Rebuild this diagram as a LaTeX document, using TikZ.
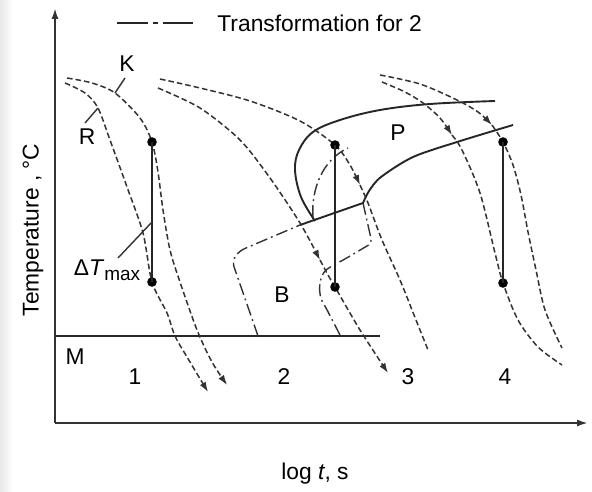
\documentclass[tikz,border=0pt]{standalone}
\usepackage{fontspec}
\setmainfont{Liberation Sans}
\usetikzlibrary{arrows.meta}
\tikzset{
    lbl/.style={font=\fontsize{11.4}{13}\selectfont, inner sep=1pt},
    axisline/.style={draw=black!80, line width=0.95pt, -{Latex[length=5.5pt,width=3.5pt]}},
    phaseline/.style={draw=black!85, line width=0.95pt},
    coolcurve/.style={draw=black!80, line width=0.75pt, dash pattern=on 2.8pt off 1.5pt},
    transcurve/.style={draw=black!80, line width=0.7pt, dash pattern=on 6pt off 2pt on 0.9pt off 2pt},
    legendline/.style={draw=black!85, line width=0.85pt, dash pattern=on 15.5pt off 2.5pt on 2.5pt off 2.5pt},
    leader/.style={draw=black!80, line width=0.7pt},
    flow/.style={-{Latex[length=5pt,width=3.4pt]}},
    tempdot/.style={circle, fill=black, inner sep=0pt, minimum size=4.8pt}
}

\begin{document}
\begin{tikzpicture}[x=0.5pt, y=-0.5pt]
    % Frame
    \fill[white] (0,0) rectangle (592,491);
    \useasboundingbox (0,0) rectangle (592,491);
    \fill[left color=black!9, right color=white] (0,0) rectangle (13,491);

    % Axes and M line
    \coordinate (origin) at (55,423);
    \coordinate (ytip) at (55,8);
    \coordinate (xtip) at (588,423);
    \coordinate (mleft) at (55,336);
    \coordinate (mright) at (380,336);
    \draw[axisline] (origin) -- (ytip);
    \draw[axisline] (origin) -- (xtip);
    \draw[phaseline] (mleft) -- (mright);

    % Legend
    \coordinate (legA) at (117,23);
    \coordinate (legB) at (193,23);
    \draw[legendline] (legA) -- (legB);
    \node[lbl, anchor=west] (legend) at (215,23) {Transformation for 2};

    % Transformation for 2
    \draw[transcurve, rounded corners=3pt] (258,336) -- (232,261) -- (239,251) -- (300,225);
    \draw[transcurve, rounded corners=2pt] (363,203) -- (372,243) -- (345,259) -- (330,267)
        .. controls (318,276) and (318,295) .. (325,306) -- (340,335);
    \draw[transcurve] (313,217) .. controls (311,190) and (322,160) .. (348,148);

    % P and B lines
    \draw[phaseline] plot[smooth, tension=0.6] coordinates {(495,101) (430,104) (380,110) (340,120) (313,132) (299,150) (295,170) (301,197) (315,221)};
    \draw[phaseline] (300,225) -- (363,203);
    \draw[phaseline] plot[smooth] coordinates {(363,203) (369,191) (381,177) (413,157) (457,142) (513,125)};

    % Cooling curves 1
    \draw[coolcurve, flow] plot[smooth] coordinates {(67,78) (92,83) (115,93) (140,118) (152,142) (158,172) (163,210) (170,250) (180,282) (197,330) (212,362) (227,385)};
    \draw[coolcurve, flow] plot[smooth] coordinates {(65,83) (85,93) (98,108) (110,140) (127,187) (143,233) (152,282) (167,313) (175,336) (187,357) (208,392)};

    % Cooling curves 2
    \draw[coolcurve, flow] plot[smooth] coordinates {(160,79) (200,88) (250,101) (300,121) (335,145) (350,165) (360,185)};
    \draw[coolcurve] plot[smooth] coordinates {(360,185) (368,203) (382,240) (400,280) (414,315) (428,350)};
    \draw[coolcurve, flow] plot[smooth] coordinates {(158,88) (200,108) (240,140) (270,178) (300,223) (320,260)};
    \draw[coolcurve, flow] plot[smooth] coordinates {(320,260) (328,275) (335,287) (360,330) (388,373)};

    % Cooling curves 4
    \draw[coolcurve, flow] plot[smooth] coordinates {(380,75) (420,84) (457,100) (478,112) (492,125)};
    \draw[coolcurve] plot[smooth] coordinates {(492,125) (503,142) (513,165) (521,195) (528,232) (536,270) (545,310) (562,348)};
    \draw[coolcurve, flow] plot[smooth] coordinates {(382,82) (405,92) (423,103) (440,118) (452,135)};
    \draw[coolcurve] plot[smooth] coordinates {(452,135) (462,150) (480,193) (495,253) (503,283) (518,320) (538,347) (562,365)};

    % Temperature differences
    \node[tempdot] (top1) at (152,142) {};
    \node[tempdot] (bot1) at (152,282) {};
    \node[tempdot] (top2) at (335,145) {};
    \node[tempdot] (bot2) at (335,287) {};
    \node[tempdot] (top4) at (503,142) {};
    \node[tempdot] (bot4) at (503,283) {};
    \draw[phaseline] (top1.center) -- (bot1.center);
    \draw[phaseline] (top2.center) -- (bot2.center);
    \draw[phaseline] (top4.center) -- (bot4.center);

    % Labels
    \node[lbl] (lblK) at (127,64) {K};
    \node[lbl] (lblR) at (87,137) {R};
    \node[lbl] (lblP) at (398,133) {P};
    \node[lbl] (lblB) at (282,295) {B};
    \node[lbl] (lblM) at (75,357) {M};
    \node[lbl] (num1) at (135,377) {1};
    \node[lbl] (num2) at (284,377) {2};
    \node[lbl] (num3) at (408,377) {3};
    \node[lbl] (num4) at (505,377) {4};
    \node[lbl] (lblDT) at (107,270) {Δ\textit{T}\raisebox{-0.45ex}{\fontsize{9.5}{10}\selectfont max}};
    \node[lbl] (xlabel) at (315,474) {log \textit{t}, s};
    \node[lbl, rotate=90] (ylabel) at (33,230) {Temperature , °C};

    % Leaders
    \coordinate (kTop) at (125,78);
    \coordinate (kFoot) at (115,93);
    \coordinate (rTop) at (85,123);
    \coordinate (rFoot) at (98,108);
    \coordinate (dtTop) at (118,258);
    \coordinate (dtFoot) at (152,222);
    \draw[leader] (kTop) -- (kFoot);
    \draw[leader] (rTop) -- (rFoot);
    \draw[leader] (dtTop) -- (dtFoot);
\end{tikzpicture}
\end{document}
